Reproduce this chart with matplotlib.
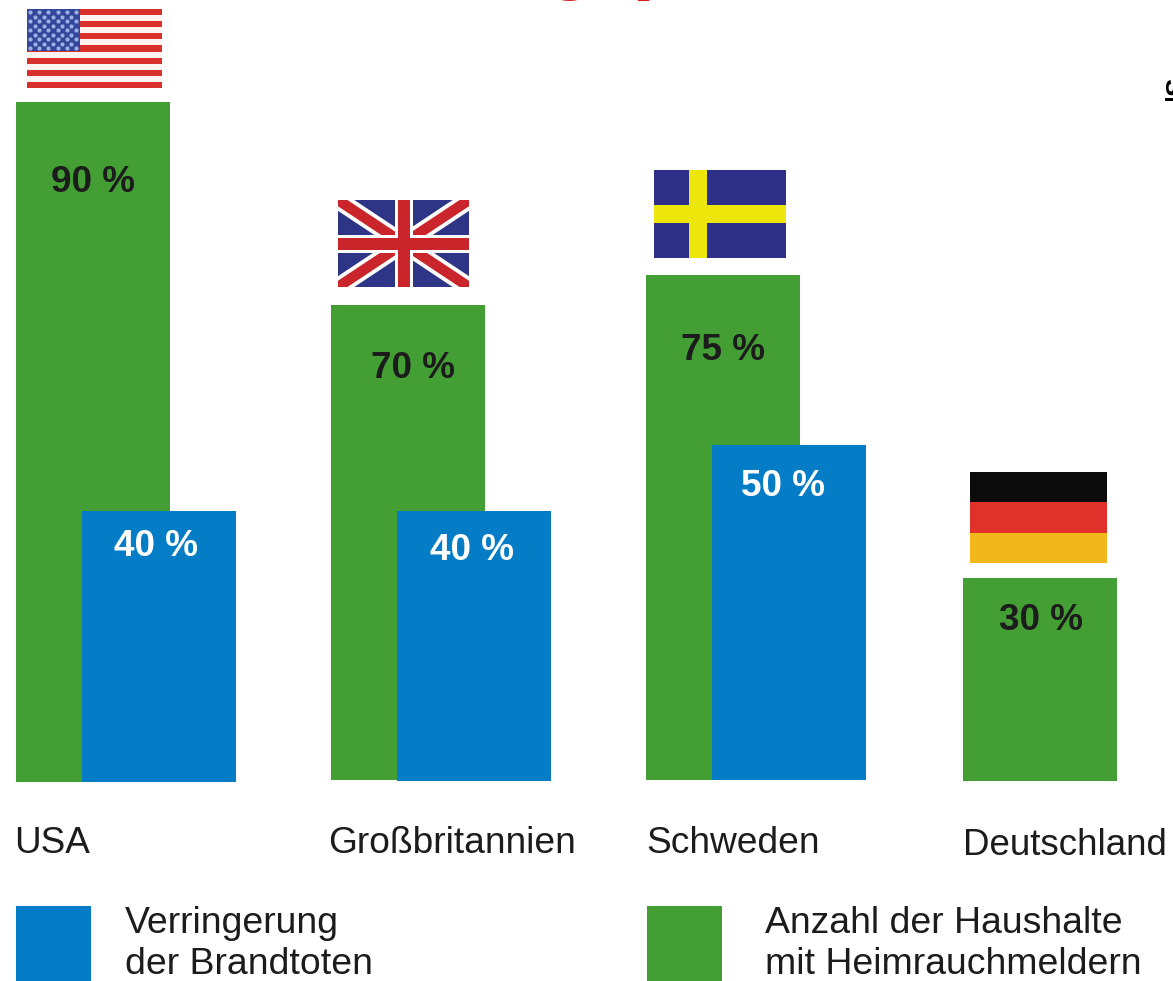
import matplotlib
matplotlib.use('Agg')
import matplotlib.pyplot as plt
from matplotlib.patches import Rectangle

plt.rcParams['font.family'] = ['Liberation Sans', 'DejaVu Sans']

# Values
countries = ['USA', 'Großbritannien', 'Schweden', 'Deutschland']
green_labels = ['90 %', '70 %', '75 %', '30 %']
green_tops = [100.3, 70.4, 74.8, 30.1]   # drawn height, USA bar is taller than its label says
green_base = [0.0, 0.3, 0.3, 0.15]
blue_labels = ['40 %', '40 %', '50 %']
blue_tops = [40.0, 40.0, 49.7]
blue_base = [0.0, 0.15, 0.3]

green_x = [16, 331, 646, 963]
blue_x = [82, 397, 712]
bar_w = 154

GREEN = '#439e34'
BLUE = '#047dc6'
DARK = '#1c1c1c'
PX = 6.78  # pixels per percent

fig = plt.figure(figsize=(11.73, 9.81), dpi=100)
ax = fig.add_axes([0, 0, 1, 1])
ax.set_xlim(0, 1173)
ax.set_ylim(-(981 - 782) / PX, 782 / PX)
ax.axis('off')

# Bars
ax.bar(green_x, [t - b for t, b in zip(green_tops, green_base)], bottom=green_base,
       width=bar_w, align='edge', color=GREEN, zorder=2)
ax.bar(blue_x, [t - b for t, b in zip(blue_tops, blue_base)], bottom=blue_base,
       width=bar_w, align='edge', color=BLUE, zorder=3)

# Overlay in pixel coordinates for flags and text
ov = fig.add_axes([0, 0, 1, 1], facecolor='none')
ov.set_xlim(0, 1173)
ov.set_ylim(981, 0)
ov.axis('off')


def rect(x0, y0, x1, y1, color, z=5):
    r = Rectangle((x0, y0), x1 - x0, y1 - y0, facecolor=color, edgecolor='none', zorder=z)
    ov.add_patch(r)
    return r


# USA flag
RED = '#d9302c'
x0, x1, y0, y1 = 27, 162, 9, 88
rect(x0, y0, x1, y1, '#fdf3f0')
stripe = (y1 - y0) / 13
for i in range(0, 13, 2):
    rect(x0, y0 + i * stripe, x1, y0 + (i + 1) * stripe, RED, z=6)
rect(x0, y0, 80, y0 + 7 * stripe - 1, '#32479b', z=7)
sx, sy = [], []
for row in range(9):
    xs = range(6) if row % 2 == 0 else range(5)
    for c in xs:
        sx.append(x0 + 3 + c * 9.2 + (0 if row % 2 == 0 else 4.6))
        sy.append(y0 + 3 + row * 4.5)
ov.scatter(sx, sy, s=9, color='#9db0e2', linewidths=0, zorder=8)

# UK flag
x0, x1, y0, y1 = 338, 469, 200, 287
clip = rect(x0, y0, x1, y1, '#2e3587')
UK_RED = '#c9252b'
for (a, b) in [((x0, y0), (x1, y1)), ((x0, y1), (x1, y0))]:
    white_line, = ov.plot([a[0], b[0]], [a[1], b[1]], color='white', lw=13, solid_capstyle='butt', zorder=6)
    red_line, = ov.plot([a[0], b[0]], [a[1], b[1]], color=UK_RED, lw=7.5, solid_capstyle='butt', zorder=6.5)
    white_line.set_clip_path(clip)
    red_line.set_clip_path(clip)
cx, cy = (x0 + x1) / 2, (y0 + y1) / 2
rect(cx - 9, y0, cx + 9, y1, 'white', z=7)
rect(x0, cy - 9, x1, cy + 9, 'white', z=7)
rect(cx - 6, y0, cx + 6, y1, UK_RED, z=8)
rect(x0, cy - 6, x1, cy + 6, UK_RED, z=8)

# Swedish flag
rect(654, 170, 786, 258, '#2e3087')
rect(689, 170, 707, 258, '#ece60a', z=6)
rect(654, 205, 786, 223, '#ece60a', z=6)

# German flag
rect(970, 472, 1107, 502, '#0b0b0b')
rect(970, 502, 1107, 533, '#e0322a')
rect(970, 533, 1107, 563, '#f2b71b')

# Value labels
for x, y, s in zip([93, 413, 723, 1041], [182, 368, 350, 621], green_labels):
    ov.text(x, y, s, fontsize=26.6, fontweight='bold', color=DARK, ha='center', va='center', zorder=10)
for x, y, s in zip([156, 472, 783], [547, 551, 487], blue_labels):
    ov.text(x, y, s, fontsize=26.6, fontweight='bold', color='white', ha='center', va='center', zorder=10)

# Country names
for x, y, s, fs in zip([14, 328, 646, 963], [853, 853, 853, 855], countries, [26.6, 26.7, 26.7, 26.5]):
    ov.text(x, y, s, fontsize=fs, color=DARK, ha='left', va='baseline', zorder=10)

# Legend
rect(16, 906, 91, 981, BLUE)
rect(647, 906, 722, 981, GREEN)
ov.text(125, 933, 'Verringerung', fontsize=26.9, color=DARK, va='baseline')
ov.text(125, 974, 'der Brandtoten', fontsize=26.9, color=DARK, va='baseline')
ov.text(765, 933, 'Anzahl der Haushalte', fontsize=26.9, color=DARK, va='baseline')
ov.text(765, 974, 'mit Heimrauchmeldern', fontsize=26.9, color=DARK, va='baseline')

# Cropped leftovers of the headline and side text at the picture edges
ov.text(570, 1, 'g', fontsize=60, fontweight='bold', color='#d6231f', ha='center', va='bottom', clip_on=True)
ov.text(657, 1, 'p', fontsize=60, fontweight='bold', color='#d6231f', ha='center', va='bottom', clip_on=True)
ov.text(1165, 96, 'S', fontsize=20, fontweight='bold', color='black', rotation=90,
        ha='left', va='bottom', clip_on=True)
rect(1165, 98, 1173, 101, 'black')

fig.savefig('out.png', dpi=100, facecolor='white')
